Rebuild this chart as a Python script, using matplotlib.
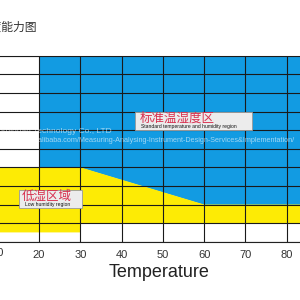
import numpy as np
import matplotlib.pyplot as plt
from matplotlib.patches import Rectangle

plt.rcParams['font.family'] = ['Liberation Sans', 'Noto Sans CJK SC', 'DejaVu Sans']

# Temperature / humidity capability regions
std_temp = [20, 30, 60, 90]
std_rh_low = [40, 40, 20, 20]
std_rh_high = [100, 100, 100, 100]

low_temp = [10, 30, 30, 60, 90]
low_rh_low = [5, 5, 10, 10, 10]
low_rh_high = [40, 40, 40, 20, 20]

temp_ticks = [10, 20, 30, 40, 50, 60, 70, 80, 90]
rh_ticks = [0, 10, 20, 30, 40, 50, 60, 70, 80, 90, 100]

blue = '#129be2'
yellow = '#fdeb05'
red = '#d8304f'

fig = plt.figure(figsize=(3, 3), dpi=100)
ax = fig.add_axes([0, 0.1943, 1, 0.62])

ax.fill_between(std_temp, std_rh_low, std_rh_high, color=blue, lw=0, zorder=1)
ax.fill_between(low_temp, low_rh_low, low_rh_high, color=yellow, lw=0, zorder=1)

ax.set_xticks(temp_ticks)
ax.set_yticks(rh_ticks)
ax.set_yticklabels([])
# limits after ticks, so the ticks don't widen the view
ax.set_xlim(10.56, 83.2)
ax.set_ylim(0, 100)
ax.grid(True, color='#1a1a1a', lw=0.8, zorder=2)
ax.set_axisbelow(False)
ax.tick_params(length=0, pad=6, labelsize=8, labelcolor='#333333')
ax.spines['top'].set_color('#888888')
ax.spines['bottom'].set_color('#222222')
ax.spines['left'].set_visible(False)
ax.spines['right'].set_visible(False)
ax.set_xlabel('Temperature', fontsize=13, color='#222222', labelpad=2)
ax.xaxis.set_label_coords(0.53, -0.12)

# the first tick label sits just outside the cropped view
ax.text(temp_ticks[0], -0.063, str(temp_ticks[0]), transform=ax.get_xaxis_transform(),
        ha='center', va='center', fontsize=8, color='#333333', clip_on=False)

# region labels
ax.add_patch(Rectangle((43.2, 60), 28.3, 10, fc='#ececec', ec='#999999', lw=0.6, zorder=3))
ax.text(44.4, 66.3, '标准温湿度区', color=red, fontsize=9, va='center',
        family=['Noto Sans CJK SC'], zorder=4)
ax.text(44.7, 62.0, 'Standard temperature and humidity region', color='#111111',
        fontsize=3.6, va='center', zorder=4)

ax.add_patch(Rectangle((15.2, 18), 15.1, 9.8, fc='#ececec', ec='#999999', lw=0.6, zorder=3))
ax.text(15.9, 24.3, '低湿区域', color=red, fontsize=9, va='center',
        family=['Noto Sans CJK SC'], zorder=4)
ax.text(16.6, 20.2, 'Low humidity region', color='#111111',
        fontsize=3.6, va='center', zorder=4)

# cropped title and watermark
fig.text(0.123, 0.908, '温湿度能力图', ha='right', va='center', fontsize=8.5,
         color='#333333', family=['Noto Sans CJK SC'])
fig.text(0.0, 0.563, 'Shiquan Technology Co., LTD', fontsize=6, color='white',
         alpha=0.6, va='center')
fig.text(0.0, 0.532,
         'https://www.alibaba.com/Measuring-Analysing-Instrument-Design-Services&Implementation/',
         fontsize=5.2, color='white', alpha=0.6, va='center')

fig.savefig('out.png', dpi=100)
